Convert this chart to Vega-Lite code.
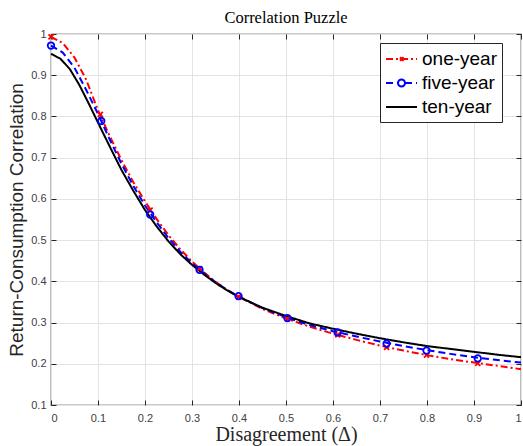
{
  "$schema": "https://vega.github.io/schema/vega-lite/v6.json",
  "width": 470,
  "height": 371,
  "autosize": {"type": "none"},
  "padding": {"left": 51, "top": 34, "right": 2, "bottom": 41},
  "background": "white",
  "title": {
    "text": "Correlation Puzzle",
    "font": "Liberation Serif",
    "fontSize": 16.5,
    "fontWeight": "normal",
    "color": "#000000",
    "anchor": "middle",
    "offset": 2
  },
  "datasets": {
    "curves": [
      {"series": "one-year", "x": 0, "y": 0.993},
      {"series": "one-year", "x": 0.025, "y": 0.978},
      {"series": "one-year", "x": 0.05, "y": 0.943},
      {"series": "one-year", "x": 0.075, "y": 0.889},
      {"series": "one-year", "x": 0.1, "y": 0.815},
      {"series": "one-year", "x": 0.125, "y": 0.752},
      {"series": "one-year", "x": 0.15, "y": 0.694},
      {"series": "one-year", "x": 0.175, "y": 0.641},
      {"series": "one-year", "x": 0.2, "y": 0.594},
      {"series": "one-year", "x": 0.225, "y": 0.551},
      {"series": "one-year", "x": 0.25, "y": 0.512},
      {"series": "one-year", "x": 0.275, "y": 0.478},
      {"series": "one-year", "x": 0.3, "y": 0.448},
      {"series": "one-year", "x": 0.325, "y": 0.422},
      {"series": "one-year", "x": 0.35, "y": 0.399},
      {"series": "one-year", "x": 0.375, "y": 0.379},
      {"series": "one-year", "x": 0.4, "y": 0.362},
      {"series": "one-year", "x": 0.45, "y": 0.333},
      {"series": "one-year", "x": 0.5, "y": 0.31},
      {"series": "one-year", "x": 0.55, "y": 0.29},
      {"series": "one-year", "x": 0.6, "y": 0.273},
      {"series": "one-year", "x": 0.65, "y": 0.258},
      {"series": "one-year", "x": 0.7, "y": 0.244},
      {"series": "one-year", "x": 0.75, "y": 0.232},
      {"series": "one-year", "x": 0.8, "y": 0.221},
      {"series": "one-year", "x": 0.85, "y": 0.211},
      {"series": "one-year", "x": 0.9, "y": 0.203},
      {"series": "one-year", "x": 0.95, "y": 0.195},
      {"series": "one-year", "x": 1, "y": 0.187},
      {"series": "five-year", "x": 0, "y": 0.972},
      {"series": "five-year", "x": 0.025, "y": 0.955},
      {"series": "five-year", "x": 0.05, "y": 0.918},
      {"series": "five-year", "x": 0.075, "y": 0.864},
      {"series": "five-year", "x": 0.1, "y": 0.806},
      {"series": "five-year", "x": 0.125, "y": 0.744},
      {"series": "five-year", "x": 0.15, "y": 0.685},
      {"series": "five-year", "x": 0.175, "y": 0.632},
      {"series": "five-year", "x": 0.2, "y": 0.584},
      {"series": "five-year", "x": 0.225, "y": 0.543},
      {"series": "five-year", "x": 0.25, "y": 0.505},
      {"series": "five-year", "x": 0.275, "y": 0.472},
      {"series": "five-year", "x": 0.3, "y": 0.444},
      {"series": "five-year", "x": 0.325, "y": 0.42},
      {"series": "five-year", "x": 0.35, "y": 0.398},
      {"series": "five-year", "x": 0.375, "y": 0.379},
      {"series": "five-year", "x": 0.4, "y": 0.363},
      {"series": "five-year", "x": 0.45, "y": 0.335},
      {"series": "five-year", "x": 0.5, "y": 0.313},
      {"series": "five-year", "x": 0.55, "y": 0.294},
      {"series": "five-year", "x": 0.6, "y": 0.279},
      {"series": "five-year", "x": 0.65, "y": 0.266},
      {"series": "five-year", "x": 0.7, "y": 0.254},
      {"series": "five-year", "x": 0.75, "y": 0.243},
      {"series": "five-year", "x": 0.8, "y": 0.233},
      {"series": "five-year", "x": 0.85, "y": 0.224},
      {"series": "five-year", "x": 0.9, "y": 0.216},
      {"series": "five-year", "x": 0.95, "y": 0.209},
      {"series": "five-year", "x": 1, "y": 0.203},
      {"series": "ten-year", "x": 0, "y": 0.952},
      {"series": "ten-year", "x": 0.02, "y": 0.94},
      {"series": "ten-year", "x": 0.04, "y": 0.915},
      {"series": "ten-year", "x": 0.06, "y": 0.877},
      {"series": "ten-year", "x": 0.08, "y": 0.832},
      {"series": "ten-year", "x": 0.1, "y": 0.785},
      {"series": "ten-year", "x": 0.125, "y": 0.727},
      {"series": "ten-year", "x": 0.15, "y": 0.67},
      {"series": "ten-year", "x": 0.175, "y": 0.62},
      {"series": "ten-year", "x": 0.2, "y": 0.573},
      {"series": "ten-year", "x": 0.225, "y": 0.533},
      {"series": "ten-year", "x": 0.25, "y": 0.497},
      {"series": "ten-year", "x": 0.275, "y": 0.466},
      {"series": "ten-year", "x": 0.3, "y": 0.44},
      {"series": "ten-year", "x": 0.325, "y": 0.417},
      {"series": "ten-year", "x": 0.35, "y": 0.396},
      {"series": "ten-year", "x": 0.375, "y": 0.378},
      {"series": "ten-year", "x": 0.4, "y": 0.362},
      {"series": "ten-year", "x": 0.45, "y": 0.336},
      {"series": "ten-year", "x": 0.5, "y": 0.316},
      {"series": "ten-year", "x": 0.55, "y": 0.298},
      {"series": "ten-year", "x": 0.6, "y": 0.285},
      {"series": "ten-year", "x": 0.65, "y": 0.273},
      {"series": "ten-year", "x": 0.7, "y": 0.262},
      {"series": "ten-year", "x": 0.75, "y": 0.252},
      {"series": "ten-year", "x": 0.8, "y": 0.243},
      {"series": "ten-year", "x": 0.85, "y": 0.236},
      {"series": "ten-year", "x": 0.9, "y": 0.229},
      {"series": "ten-year", "x": 0.95, "y": 0.222},
      {"series": "ten-year", "x": 1, "y": 0.216}
    ],
    "markers": [
      {"series": "one-year", "x": 0, "y": 0.993},
      {"series": "one-year", "x": 0.105, "y": 0.805},
      {"series": "one-year", "x": 0.211, "y": 0.573},
      {"series": "one-year", "x": 0.316, "y": 0.431},
      {"series": "one-year", "x": 0.399, "y": 0.362},
      {"series": "one-year", "x": 0.503, "y": 0.309},
      {"series": "one-year", "x": 0.61, "y": 0.27},
      {"series": "one-year", "x": 0.714, "y": 0.24},
      {"series": "one-year", "x": 0.799, "y": 0.221},
      {"series": "one-year", "x": 0.908, "y": 0.201},
      {"series": "five-year", "x": 0, "y": 0.972},
      {"series": "five-year", "x": 0.107, "y": 0.789},
      {"series": "five-year", "x": 0.211, "y": 0.562},
      {"series": "five-year", "x": 0.316, "y": 0.428},
      {"series": "five-year", "x": 0.399, "y": 0.364},
      {"series": "five-year", "x": 0.503, "y": 0.311},
      {"series": "five-year", "x": 0.61, "y": 0.276},
      {"series": "five-year", "x": 0.714, "y": 0.249},
      {"series": "five-year", "x": 0.799, "y": 0.232},
      {"series": "five-year", "x": 0.908, "y": 0.213}
    ]
  },
  "layer": [
    {
      "data": {"name": "curves"},
      "mark": {"type": "line", "strokeWidth": 2},
      "encoding": {
        "x": {
          "field": "x",
          "type": "quantitative",
          "scale": {"domain": [0, 1], "nice": false, "zero": false},
          "axis": {
            "orient": "bottom",
            "values": [0, 0.1, 0.2, 0.3, 0.4, 0.5, 0.6, 0.7, 0.8, 0.9, 1],
            "format": "~g",
            "grid": true,
            "domain": false,
            "tickSize": -5,
            "labelPadding": 12,
            "title": "Disagreement  (Δ)",
            "titleFont": "Liberation Serif",
            "titleFontSize": 20,
            "titlePadding": 1
          }
        },
        "y": {
          "field": "y",
          "type": "quantitative",
          "scale": {"domain": [0.1, 1], "nice": false, "zero": false},
          "axis": {
            "orient": "left",
            "values": [0.1, 0.2, 0.3, 0.4, 0.5, 0.6, 0.7, 0.8, 0.9, 1],
            "format": "~g",
            "grid": true,
            "domain": false,
            "tickSize": -5,
            "labelPadding": 10,
            "title": "Return-Consumption Correlation",
            "titleFont": "Liberation Sans",
            "titleFontSize": 19,
            "titlePadding": 4
          }
        },
        "color": {
          "field": "series",
          "type": "nominal",
          "scale": {
            "domain": ["one-year", "five-year", "ten-year"],
            "range": ["#ff0000", "#0000ff", "#000000"]
          },
          "legend": {
            "title": null,
            "orient": "none",
            "legendX": 329,
            "legendY": 9,
            "padding": 5,
            "strokeColor": "#262626",
            "fillColor": "#ffffff",
            "labelFont": "Liberation Sans",
            "labelFontSize": 19,
            "labelColor": "#000000",
            "labelOffset": 15,
            "rowPadding": 3,
            "symbolSize": 400,
            "symbolStrokeWidth": 2,
            "encode": {
              "symbols": {
                "update": {
                  "shape": {"signal": "datum.value === 'one-year' ? 'M-1,0H2.1M0.4,-0.18L0.76,0.18M0.4,0.18L0.76,-0.18' : datum.value === 'five-year' ? 'M-1,0H0.2M0.9,0H2.1M0.9,0A0.35,0.35 0 0 1 0.7975,0.2475M0.7975,0.2475A0.35,0.35 0 0 1 0.55,0.35M0.55,0.35A0.35,0.35 0 0 1 0.3025,0.2475M0.3025,0.2475A0.35,0.35 0 0 1 0.2,0M0.2,0A0.35,0.35 0 0 1 0.3025,-0.2475M0.3025,-0.2475A0.35,0.35 0 0 1 0.55,-0.35M0.55,-0.35A0.35,0.35 0 0 1 0.7975,-0.2475M0.7975,-0.2475A0.35,0.35 0 0 1 0.9,0' : 'M-1,0H2.1'"},
                  "strokeDash": {"signal": "datum.value === 'one-year' ? [7,3,2,3] : datum.value === 'five-year' ? [7,4] : [1,0]"}
                }
              }
            }
          }
        },
        "strokeDash": {
          "field": "series",
          "type": "nominal",
          "scale": {
            "domain": ["one-year", "five-year", "ten-year"],
            "range": [[7, 3, 2, 3], [7, 4], [1, 0]]
          },
          "legend": null
        }
      }
    },
    {
      "data": {"name": "markers"},
      "transform": [{"filter": "datum.series === 'one-year'"}],
      "mark": {
        "type": "point",
        "shape": "M-1,-1L1,1M-1,1L1,-1",
        "size": 25,
        "strokeWidth": 1.8,
        "filled": false,
        "color": "#ff0000",
        "opacity": 1
      },
      "encoding": {
        "x": {
          "field": "x",
          "type": "quantitative",
          "axis": {
            "orient": "top",
            "values": [0, 0.1, 0.2, 0.3, 0.4, 0.5, 0.6, 0.7, 0.8, 0.9, 1],
            "labels": false,
            "grid": false,
            "domain": false,
            "tickSize": -5,
            "title": null
          }
        },
        "y": {
          "field": "y",
          "type": "quantitative",
          "axis": {
            "orient": "right",
            "values": [0.1, 0.2, 0.3, 0.4, 0.5, 0.6, 0.7, 0.8, 0.9, 1],
            "labels": false,
            "grid": false,
            "domain": false,
            "tickSize": -5,
            "title": null
          }
        }
      }
    },
    {
      "data": {"name": "markers"},
      "transform": [{"filter": "datum.series === 'five-year'"}],
      "mark": {
        "type": "point",
        "shape": "circle",
        "size": 42,
        "strokeWidth": 1.8,
        "filled": false,
        "color": "#0000ff",
        "opacity": 1
      },
      "encoding": {
        "x": {"field": "x", "type": "quantitative", "axis": null},
        "y": {"field": "y", "type": "quantitative", "axis": null}
      }
    }
  ],
  "resolve": {"axis": {"x": "independent", "y": "independent"}},
  "config": {
    "view": {"stroke": "#262626", "strokeWidth": 1.2},
    "axis": {
      "labelFont": "Liberation Sans",
      "labelFontSize": 11,
      "labelColor": "#404040",
      "tickColor": "#262626",
      "tickWidth": 1,
      "gridColor": "#e3e3e3",
      "gridWidth": 1,
      "gridOpacity": 1,
      "titleColor": "#262626",
      "titleFontWeight": "normal"
    }
  }
}
